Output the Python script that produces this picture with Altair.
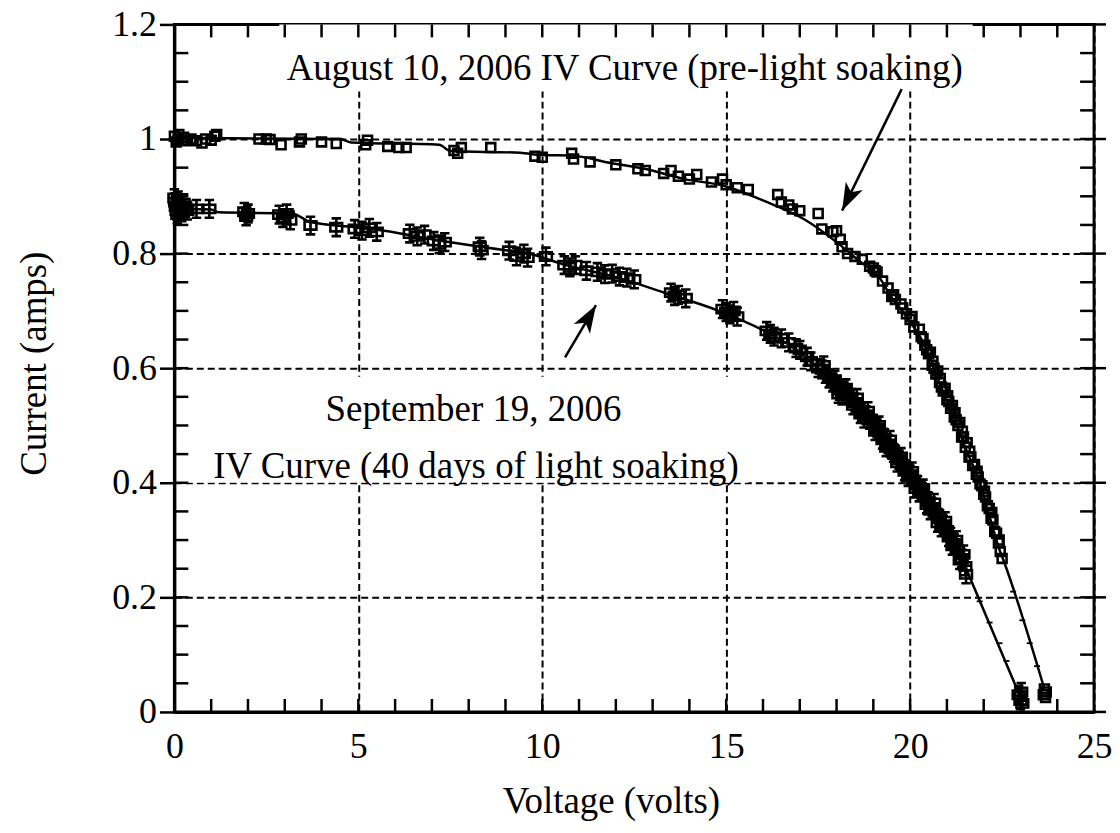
import altair as alt
import pandas as pd

# ---------------- data ----------------
aug_v = [0.0, 0.05, 0.1, 0.12, 0.2, 0.25, 0.3, 0.45, 0.6, 0.75, 0.85, 1.0, 1.1, 1.15,
         2.3, 2.5, 2.6, 2.9, 3.4, 3.45, 4.0, 4.4, 5.2, 5.25, 5.8, 6.1, 6.3, 7.6, 7.7, 7.8,
         8.6, 9.8, 10.0, 10.8, 10.85, 11.3, 12.0, 12.6, 12.8, 13.3, 13.5, 13.7, 14.0, 14.2,
         14.6, 14.9, 15.0, 15.3, 15.6, 16.4, 16.5, 16.7, 16.8, 17.0, 17.5, 17.6, 17.9, 18.0,
         18.1, 18.15, 18.3, 18.5, 18.7, 18.9, 19.0, 19.05, 19.1, 19.25, 19.4, 19.5, 19.55,
         19.6, 19.75, 19.8, 19.9, 20.0, 20.05, 20.1, 20.25, 20.3, 20.4, 20.5, 20.55, 20.6,
         20.7, 20.75, 20.8, 20.9, 20.95, 21.0, 21.1, 21.15, 21.2, 21.3, 21.35, 21.4, 21.5,
         21.55, 21.6, 21.7, 21.75, 21.8, 21.9, 21.95, 22.0, 22.1, 22.15, 22.2, 22.3, 22.35,
         22.4, 22.45, 22.5, 23.62, 23.65, 23.7, 23.68,
         20.35, 20.45, 20.65, 20.85, 21.05, 21.25, 21.45, 21.65, 21.85, 22.05, 22.25, 22.42,
         20.62, 20.82, 21.02, 21.22, 21.42, 21.62, 21.82, 22.02, 22.22]
aug_i = [1.005, 0.995, 1.0, 1.008, 0.998, 1.003, 0.997, 1.0, 0.997, 0.993, 1.0, 0.998, 1.005, 1.008,
         1.0, 1.0, 0.999, 0.99, 0.995, 1.0, 0.995, 0.992, 0.99, 0.998, 0.987, 0.985, 0.985, 0.98, 0.975, 0.985,
         0.985, 0.97, 0.968, 0.975, 0.965, 0.96, 0.955, 0.948, 0.945, 0.94, 0.945, 0.935, 0.93, 0.938,
         0.925, 0.93, 0.92, 0.915, 0.912, 0.903, 0.89, 0.885, 0.878, 0.875, 0.87, 0.843, 0.838, 0.84,
         0.825, 0.812, 0.8, 0.795, 0.79, 0.778, 0.775, 0.77, 0.768, 0.752, 0.74, 0.725, 0.728,
         0.72, 0.712, 0.705, 0.695, 0.685, 0.69, 0.672, 0.668, 0.655, 0.64, 0.625, 0.628, 0.605,
         0.59, 0.595, 0.575, 0.56, 0.565, 0.545, 0.53, 0.535, 0.515, 0.5, 0.505, 0.48, 0.462,
         0.47, 0.445, 0.43, 0.432, 0.415, 0.398, 0.395, 0.38, 0.36, 0.355, 0.338, 0.315, 0.312,
         0.295, 0.28, 0.268, 0.03, 0.04, 0.035, 0.025,
         0.652, 0.632, 0.6, 0.567, 0.542, 0.51, 0.48, 0.445, 0.41, 0.375, 0.335, 0.3,
         0.612, 0.582, 0.552, 0.522, 0.49, 0.455, 0.42, 0.385, 0.348]

sep_v = [0.0, 0.02, 0.04, 0.06, 0.08, 0.1, 0.13, 0.16, 0.2, 0.25, 0.3, 0.35, 0.6, 0.95,
         1.9, 1.95, 2.0, 2.85, 2.95, 3.05, 3.15, 3.7, 4.4, 4.9, 5.1, 5.3, 5.5, 6.4, 6.6, 6.8,
         7.05, 7.2, 7.35, 8.3, 8.35, 9.1, 9.3, 9.5, 9.6, 10.1, 10.6, 10.75, 10.9, 11.2, 11.5,
         11.7, 11.9, 12.1, 12.3, 12.5, 13.5, 13.6, 13.7, 13.9, 14.9, 15.0, 15.1, 15.2, 15.3,
         16.1, 16.2, 16.3, 16.5, 16.7, 16.9, 17.0, 17.2, 17.3, 17.5, 17.6, 17.65, 17.7, 17.8,
         17.9, 17.95, 18.0, 18.05, 18.1, 18.2, 18.25, 18.3, 18.4, 18.5, 18.55, 18.6, 18.65,
         18.7, 18.8, 18.85, 18.9, 19.0, 19.1, 19.15, 19.2, 19.25, 19.3, 19.4, 19.45, 19.5,
         19.6, 19.7, 19.75, 19.8, 19.85, 19.9, 20.0, 20.05, 20.1, 20.2, 20.3, 20.35, 20.4,
         20.45, 20.5, 20.6, 20.65, 20.7, 20.8, 20.9, 20.95, 21.0, 21.05, 21.1, 21.2, 21.25,
         21.3, 21.4, 21.45, 21.5, 21.52, 22.95, 23.0, 23.02, 23.05,
         18.15, 18.45, 18.75, 19.05, 19.35, 19.55, 19.65, 19.95, 20.15, 20.25, 20.55, 20.75,
         20.85, 21.15, 21.35]
sep_i = [0.897, 0.89, 0.882, 0.875, 0.868, 0.893, 0.885, 0.878, 0.872, 0.888, 0.88, 0.875, 0.878, 0.878,
         0.873, 0.865, 0.87, 0.868, 0.862, 0.87, 0.858, 0.849, 0.846, 0.843, 0.84, 0.845, 0.838, 0.835, 0.83, 0.833,
         0.822, 0.816, 0.82, 0.812, 0.806, 0.805, 0.795, 0.8, 0.793, 0.795, 0.78, 0.776, 0.78, 0.77, 0.768,
         0.764, 0.765, 0.76, 0.758, 0.755, 0.732, 0.726, 0.728, 0.722, 0.703, 0.698, 0.694, 0.7, 0.69,
         0.665, 0.66, 0.655, 0.652, 0.645, 0.635, 0.632, 0.62, 0.612, 0.6, 0.598, 0.605, 0.59, 0.582,
         0.575, 0.58, 0.57, 0.555, 0.565, 0.56, 0.565, 0.555, 0.548, 0.54, 0.548, 0.532, 0.52,
         0.525, 0.518, 0.525, 0.51, 0.503, 0.495, 0.5, 0.487, 0.475, 0.478, 0.468, 0.475, 0.458,
         0.449, 0.44, 0.445, 0.432, 0.42, 0.423, 0.414, 0.42, 0.405, 0.396, 0.386, 0.39, 0.376,
         0.362, 0.367, 0.357, 0.365, 0.347, 0.337, 0.327, 0.333, 0.317, 0.305, 0.306, 0.294, 0.3,
         0.282, 0.268, 0.275, 0.254, 0.24, 0.03, 0.02, 0.035, 0.015,
         0.552, 0.535, 0.512, 0.49, 0.462, 0.452, 0.435, 0.41, 0.39, 0.383, 0.352, 0.33,
         0.322, 0.29, 0.265]

# smooth fitted curves drawn through the points
aug_fit_v = [0.0, 4.5, 4.8, 7.2, 7.5, 9.4, 10.0, 10.8, 11.86, 12.78, 13.87, 14.95, 16.03, 17.12,
             18.0, 18.6, 19.2, 19.45, 19.9, 20.45, 20.8, 21.18, 21.53, 21.89, 22.16, 22.43, 22.53, 23.65]
aug_fit_i = [1.002, 1.0, 0.994, 0.99, 0.979, 0.976, 0.972, 0.971, 0.958, 0.948, 0.93, 0.918, 0.892, 0.86,
             0.82, 0.788, 0.755, 0.728, 0.69, 0.633, 0.574, 0.515, 0.457, 0.4, 0.341, 0.283, 0.266, 0.04]
sep_fit_v = [0.0, 0.5, 1.0, 1.2, 3.2, 3.7, 4.9, 6.0, 7.0, 8.0, 9.0, 9.34, 10.7, 12.05, 13.4, 14.76,
             16.1, 16.93, 17.47, 18.1, 18.7, 19.2, 19.65, 20.1, 20.53, 20.99, 21.34, 21.53, 22.97]
sep_fit_i = [0.885, 0.878, 0.877, 0.872, 0.87, 0.855, 0.846, 0.837, 0.825, 0.815, 0.806, 0.804, 0.779,
             0.758, 0.73, 0.701, 0.663, 0.631, 0.602, 0.565, 0.525, 0.487, 0.445, 0.405, 0.365, 0.318,
             0.278, 0.249, 0.03]

# sparse tail points (small dashes on the lines)
tail_v = [22.8, 23.05, 23.25, 23.45, 21.89, 22.16, 22.43, 22.62]
tail_i = [0.21, 0.16, 0.12, 0.08, 0.193, 0.156, 0.12, 0.089]

# axis ticks
x_labels = [0, 5, 10, 15, 20, 25]
y_labels = [0, 0.2, 0.4, 0.6, 0.8, 1.0, 1.2]
x_minor = list(range(1, 25))
y_minor = [round(0.05 * k, 2) for k in range(1, 24)]

# annotations
note_text = ["August 10, 2006 IV Curve (pre-light soaking)",
             "September 19, 2006",
             "IV Curve (40 days of light soaking)"]
note_v = [12.24, 8.13, 8.2]
note_i = [1.122, 0.527, 0.428]
box_v = [2.85, 0.35]
box_v2 = [21.7, 15.6]
box_i = [1.083, 0.4]
box_i2 = [1.2, 0.585]
arrow_v = [19.77, 10.62]
arrow_i = [1.087, 0.619]
arrow_v2 = [18.15, 11.46]
arrow_i2 = [0.875, 0.71]
arrow_ang = [206.2, 30.8]

FONT = "Liberation Serif"
W, H = 923, 690

aug = pd.DataFrame({"v": aug_v, "i": aug_i})
sep = pd.DataFrame({"v": sep_v, "i": sep_i})
augfit = pd.DataFrame({"v": aug_fit_v, "i": aug_fit_i})
sepfit = pd.DataFrame({"v": sep_fit_v, "i": sep_fit_i})
tail = pd.DataFrame({"v": tail_v, "i": tail_i})
notes = pd.DataFrame({"t": note_text, "v": note_v, "i": note_i})
boxes = pd.DataFrame({"v": box_v, "v2": box_v2, "i": box_i, "i2": box_i2})
arrows = pd.DataFrame({"v": arrow_v, "i": arrow_i, "v2": arrow_v2, "i2": arrow_i2, "ang": arrow_ang})
xmin = pd.DataFrame({"v": x_minor})
ymin = pd.DataFrame({"i": y_minor})
ymaj = pd.DataFrame({"i": y_labels})

xs = alt.Scale(domain=[0, 25], nice=False, zero=False)
ys = alt.Scale(domain=[0, 1.2], nice=False, zero=False)

X = alt.X("v:Q", scale=xs, axis=alt.Axis(
    values=x_labels, title="Voltage (volts)", format="~g", labelFlush=False,
    tickSize=0, labelPadding=18, labelFontSize=36, labelFont=FONT, labelColor="black",
    titleFont=FONT, titleFontSize=37, titleFontWeight="normal", titleColor="black",
    titleX=438, titleY=90, titleBaseline="middle", titleAlign="center",
    grid=True, gridDash=[7, 4], gridColor="black", gridWidth=2, gridOpacity=1,
    domainColor="black", domainWidth=3))
Y = alt.Y("i:Q", scale=ys, axis=alt.Axis(
    values=y_labels, title="Current (amps)", format="~g", labelFlush=False,
    tickSize=15, tickWidth=2.5, tickColor="black", labelPadding=3,
    labelFontSize=36, labelFont=FONT, labelColor="black",
    titleFont=FONT, titleFontSize=37, titleFontWeight="normal", titleColor="black",
    titleX=-140, titleY=340, titleAlign="center", titleBaseline="middle",
    grid=True, gridDash=[7, 4], gridColor="black", gridWidth=2, gridOpacity=1,
    domainColor="black", domainWidth=3))

base_pts = alt.Chart(aug).mark_point(shape="square", filled=False, color="black",
                                     strokeWidth=2.6, size=80, opacity=1).encode(x=X, y=Y)

layers = []
# white boxes behind annotations
layers.append(alt.Chart(boxes).mark_rect(color="white").encode(
    x=alt.X("v:Q", scale=xs), x2="v2", y=alt.Y("i:Q", scale=ys), y2="i2"))
# minor ticks inward
layers.append(alt.Chart(xmin).mark_rule(color="black", strokeWidth=2.5).encode(
    x=alt.X("v:Q", scale=xs), y=alt.value(H), y2=alt.value(H - 13)))
layers.append(alt.Chart(xmin).mark_rule(color="black", strokeWidth=2.5).encode(
    x=alt.X("v:Q", scale=xs), y=alt.value(0), y2=alt.value(13)))
layers.append(alt.Chart(ymin).mark_rule(color="black", strokeWidth=2.5).encode(
    y=alt.Y("i:Q", scale=ys), x=alt.value(0), x2=alt.value(14)))
layers.append(alt.Chart(ymin).mark_rule(color="black", strokeWidth=2.5).encode(
    y=alt.Y("i:Q", scale=ys), x=alt.value(W), x2=alt.value(W - 14)))
layers.append(alt.Chart(ymaj).mark_rule(color="black", strokeWidth=2.5).encode(
    y=alt.Y("i:Q", scale=ys), x=alt.value(W), x2=alt.value(W + 12)))
# fitted lines
layers.append(alt.Chart(augfit).mark_line(color="black", strokeWidth=2.5, interpolate="monotone").encode(
    x=alt.X("v:Q", scale=xs), y=alt.Y("i:Q", scale=ys)))
layers.append(alt.Chart(sepfit).mark_line(color="black", strokeWidth=2.5, interpolate="monotone").encode(
    x=alt.X("v:Q", scale=xs), y=alt.Y("i:Q", scale=ys)))
# markers
layers.append(base_pts)
layers.append(alt.Chart(sep).mark_point(
    shape="M-1,-0.7H1V0.7H-1Z M0,-1.5V1.5 M-0.8,-1.5H0.8 M-0.8,1.5H0.8",
    filled=False, color="black", strokeWidth=2.6, size=140, opacity=1).encode(
    x=alt.X("v:Q", scale=xs), y=alt.Y("i:Q", scale=ys)))
layers.append(alt.Chart(tail).mark_point(shape="M-1,0H1", filled=False, color="black",
                                         strokeWidth=1.8, size=36, opacity=1).encode(
    x=alt.X("v:Q", scale=xs), y=alt.Y("i:Q", scale=ys)))
# annotations
layers.append(alt.Chart(notes).mark_text(font=FONT, fontSize=37, color="black",
                                         align="center", baseline="middle").encode(
    x=alt.X("v:Q", scale=xs), y=alt.Y("i:Q", scale=ys), text="t:N"))
layers.append(alt.Chart(arrows).mark_rule(color="black", strokeWidth=2.5).encode(
    x=alt.X("v:Q", scale=xs), y=alt.Y("i:Q", scale=ys), x2="v2", y2="i2"))
layers.append(alt.Chart(arrows).mark_point(
    shape="M0,0 L0.6,1.75 L0,1.3 L-0.6,1.75 Z", filled=True, color="black", size=1000, opacity=1).encode(
    x=alt.X("v2:Q", scale=xs), y=alt.Y("i2:Q", scale=ys),
    angle=alt.Angle("ang:Q", scale=None)))

chart = alt.layer(*layers).properties(
    width=W, height=H,
    autosize=alt.AutoSizeParams(type="none"),
    padding={"left": 167, "top": 15, "right": 18, "bottom": 116},
    background="white",
).configure_view(stroke="black", strokeWidth=3)

chart.save("out.html", embed_options={"renderer": "svg", "actions": False})
